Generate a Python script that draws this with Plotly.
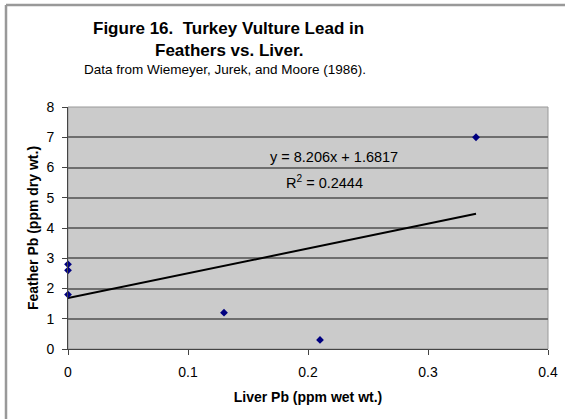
import plotly.graph_objects as go
import numpy as np

liver_pb = [0.0, 0.0, 0.0, 0.13, 0.21, 0.34]
feather_pb = [1.8, 2.6, 2.8, 1.2, 0.3, 7.0]
slope = 8.206
intercept = 1.6817
r2 = 0.2444

x_ticks = [0, 0.1, 0.2, 0.3, 0.4]
y_ticks = list(range(0, 9))

fig = go.Figure()
xl = np.array([min(liver_pb), max(liver_pb)])
fig.add_trace(go.Scatter(x=xl, y=slope * xl + intercept, mode="lines",
                         line=dict(color="black", width=2), hoverinfo="skip"))
fig.add_trace(go.Scatter(x=liver_pb, y=feather_pb, mode="markers", cliponaxis=False,
                         marker=dict(symbol="diamond", size=6, color="#000080")))

font = "Liberation Sans, Arial, sans-serif"
fig.update_layout(
    width=565, height=419,
    margin=dict(l=68, r=17, t=107, b=70),
    paper_bgcolor="white", plot_bgcolor="#cbcbcb",
    showlegend=False,
    font=dict(family=font, size=14, color="black"),
    xaxis=dict(range=[0, 0.4], tickvals=x_ticks, ticktext=["0", "0.1", "0.2", "0.3", "0.4"],
               showgrid=False, zeroline=False, showline=True, linecolor="#444", linewidth=1,
               ticks="outside", ticklen=5, tickcolor="#444", automargin=False,
               tickfont=dict(size=14), ticklabelstandoff=5,
               title=dict(text="<b>Liver Pb (ppm wet wt.)</b>", font=dict(size=14), standoff=13)),
    yaxis=dict(range=[0, 8], tickvals=y_ticks, showgrid=True, gridcolor="#6e6e6e", gridwidth=1.5,
               zeroline=False, showline=True, linecolor="#444", linewidth=1,
               ticks="outside", ticklen=5, tickcolor="#444", automargin=False,
               tickfont=dict(size=14), ticklabelstandoff=5,
               title=dict(text="<b>Feather Pb (ppm dry wt.)</b>", font=dict(size=14), standoff=4)),
    shapes=[
        dict(type="rect", xref="paper", yref="paper", x0=0, x1=1, y0=0, y1=1,
             line=dict(color="#999", width=1), layer="below"),
        dict(type="line", xref="paper", yref="paper", x0=(6-68)/480, x1=(600-68)/480,
             y0=(349-5)/242, y1=(349-5)/242, line=dict(color="#999", width=2.5)),
        dict(type="line", xref="paper", yref="paper", x0=(6-68)/480, x1=(6-68)/480,
             y0=(349-5)/242, y1=(349-440)/242, line=dict(color="#999", width=2.5)),
    ],
    annotations=[
        dict(text="<b>Figure 16.  Turkey Vulture Lead in</b>", xref="paper", yref="paper",
             x=(228-68)/480, y=(349-29)/242, showarrow=False, font=dict(size=17),
             xanchor="center", yanchor="middle"),
        dict(text="<b>Feathers vs. Liver.</b>", xref="paper", yref="paper",
             x=(229-68)/480, y=(349-50)/242, showarrow=False, font=dict(size=17),
             xanchor="center", yanchor="middle"),
        dict(text="Data from Wiemeyer, Jurek, and Moore (1986).", xref="paper", yref="paper",
             x=(225-68)/480, y=(349-70)/242, showarrow=False, font=dict(size=13.5),
             xanchor="center", yanchor="middle"),
        dict(text=f"y = {slope}x + {intercept}", x=0.222, y=6.35, showarrow=False,
             font=dict(size=14.5), xanchor="center", yanchor="middle"),
        dict(text=f"R<sup>2</sup> = {r2}", x=0.214, y=5.52, showarrow=False,
             font=dict(size=14.5), xanchor="center", yanchor="middle"),
    ],
)

fig.write_html("out.html", config={"displayModeBar": False},
               post_script="document.body.style.margin='0px';")
